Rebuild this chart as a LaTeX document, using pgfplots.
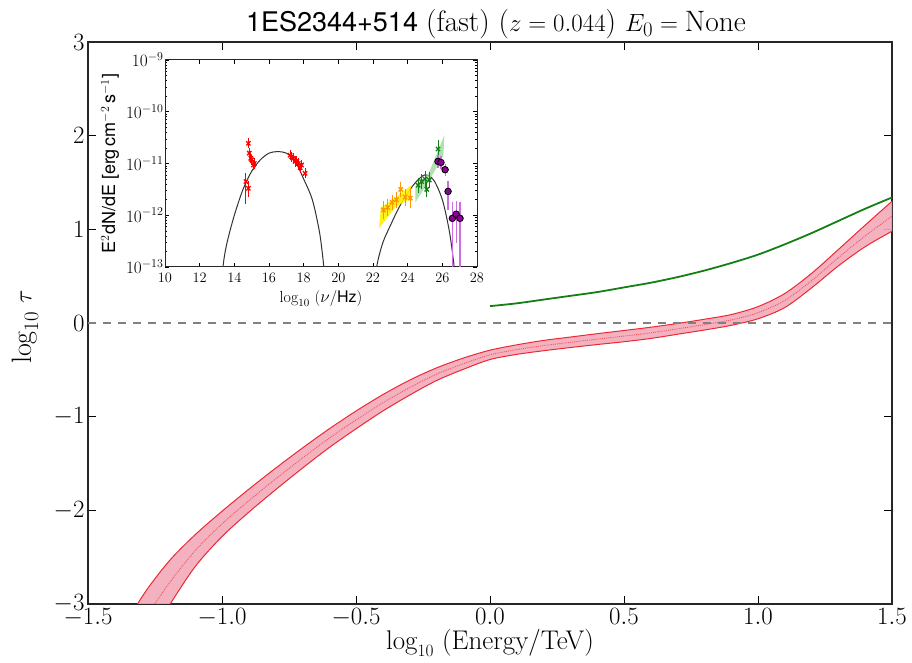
\documentclass[border=0pt]{standalone}
\usepackage{fontspec}
\setsansfont{TeX Gyre Heros}
\usepackage{pgfplots}
\pgfplotsset{compat=1.18}
\usepackage{pgfplotstable}
\usepgfplotslibrary{fillbetween}

\definecolor{bandfill}{RGB}{243,170,185}
\definecolor{bandedge}{RGB}{238,40,50}
\definecolor{mygreen}{RGB}{20,128,20}
\definecolor{myorange}{RGB}{255,150,0}
\definecolor{myyellow}{RGB}{255,240,0}
\definecolor{lgreen}{RGB}{150,215,150}
\definecolor{mypurple}{RGB}{140,0,150}
\definecolor{errpurple}{RGB}{205,110,225}

\pgfplotstableread{
x lo mid hi
-1.40 -4.00 -3.715 -3.43
-1.30 -3.50 -3.215 -2.93
-1.20 -3.03 -2.79 -2.55
-1.10 -2.60 -2.43 -2.26
-1.00 -2.28 -2.145 -2.01
-0.90 -2.02 -1.8975 -1.775
-0.80 -1.78 -1.665 -1.55
-0.70 -1.55 -1.4425 -1.335
-0.60 -1.33 -1.23 -1.13
-0.50 -1.13 -1.035 -0.94
-0.40 -0.94 -0.8525 -0.765
-0.30 -0.77 -0.69 -0.61
-0.20 -0.615 -0.5475 -0.48
-0.10 -0.495 -0.435 -0.375
0.00 -0.39 -0.34 -0.29
0.10 -0.335 -0.284 -0.233
0.20 -0.296 -0.241 -0.186
0.30 -0.262 -0.206 -0.150
0.40 -0.23 -0.172 -0.114
0.50 -0.20 -0.14 -0.08
0.60 -0.165 -0.105 -0.045
0.70 -0.12 -0.0625 -0.005
0.80 -0.075 -0.0175 0.04
0.90 -0.025 0.0325 0.09
1.00 0.045 0.11 0.175
1.10 0.165 0.24 0.315
1.20 0.375 0.4525 0.53
1.30 0.61 0.6975 0.785
1.40 0.815 0.93 1.045
1.50 0.98 1.14 1.30
}\band

\pgfplotstableread{
x y
0.00 0.18
0.10 0.21
0.20 0.25
0.30 0.29
0.40 0.33
0.50 0.38
0.60 0.43
0.70 0.49
0.80 0.56
0.90 0.64
1.00 0.73
1.10 0.84
1.20 0.96
1.30 1.09
1.40 1.22
1.50 1.34
}\greenline

\begin{document}
\begin{tikzpicture}
\begin{axis}[
  name=main,
  scale only axis, width=804pt, height=562pt,
  xmin=-1.5, xmax=1.5, ymin=-3, ymax=3,
  xtick={-1.5,-1,-0.5,0,0.5,1,1.5},
  ytick={-3,-2,-1,0,1,2,3},
  xticklabel style={/pgf/number format/fixed, /pgf/number format/fixed zerofill, /pgf/number format/precision=1, yshift=-1pt},
  ticklabel style={font=\fontsize{27}{31}\selectfont},
  major tick length=8pt,
  tick style={line width=0.9pt, black},
  axis line style={line width=1.2pt, black!85},
  tick align=inside,
]
\addplot[name path=hi, draw=bandedge, line width=1pt, smooth] table[x=x,y=hi] {\band};
\addplot[name path=lo, draw=bandedge, line width=1pt, smooth] table[x=x,y=lo] {\band};
\addplot[bandfill, fill opacity=0.9] fill between[of=hi and lo];
\addplot[draw=bandedge!80, densely dotted, line width=0.9pt, smooth] table[x=x,y=mid] {\band};
\addplot[draw=mygreen, line width=1.8pt, smooth] table[x=x,y=y] {\greenline};
\addplot[draw=black!50, line width=2.5pt, dash pattern=on 8pt off 7pt] coordinates {(-1.5,0) (1.5,0)};
\end{axis}
\node[anchor=base] at ([xshift=6pt,yshift=10pt]main.north) {\fontsize{27}{31}\selectfont\textsf{1ES2344+514} \fontsize{29.5}{33}\selectfont(fast) ($z=0.044$) $E_0=\mathrm{None}$};
\node[anchor=base] at ([yshift=-46pt]main.south) {\fontsize{27}{31}\selectfont$\log_{10}$ (Energy/TeV)};
\node[rotate=90, anchor=center] at ([xshift=-63pt,yshift=-4pt]main.west) {\fontsize{28}{32}\selectfont$\log_{10}\,\tau$};

\begin{axis}[
  name=inset,
  at={(77pt,337pt)}, anchor=south west,
  scale only axis, width=312pt, height=207pt,
  axis background/.style={fill=white},
  xmin=10, xmax=28, ymin=-13, ymax=-9,
  xtick={10,12,...,28},
  ytick={-13,-12,-11,-10,-9},
  yticklabels={$10^{-13}$,$10^{-12}$,$10^{-11}$,$10^{-10}$,$10^{-9}$},
  minor ytick={-12.699,-12.523,-12.398,-12.301,-12.222,-12.155,-12.097,-12.046,
               -11.699,-11.523,-11.398,-11.301,-11.222,-11.155,-11.097,-11.046,
               -10.699,-10.523,-10.398,-10.301,-10.222,-10.155,-10.097,-10.046,
               -9.699,-9.523,-9.398,-9.301,-9.222,-9.155,-9.097,-9.046},
  xticklabel style={font=\fontsize{15.5}{18}\selectfont, yshift=-3pt},
  yticklabel style={font=\fontsize{17}{19}\selectfont, xshift=2pt},
  major tick length=4pt, minor tick length=2pt,
  tick style={line width=0.6pt, black},
  axis line style={line width=1pt, black!85},
  tick align=inside,
]
% synchrotron model
\addplot[black!80, line width=1pt, smooth] coordinates {
(13.25,-13.3) (13.4,-12.85) (13.6,-12.5) (14.0,-12.0) (14.5,-11.5) (15.0,-11.15) (15.5,-10.93)
(16.0,-10.8) (16.5,-10.77) (17.0,-10.8) (17.5,-10.95) (18.0,-11.3) (18.5,-11.7) (18.9,-12.3) (19.1,-12.8) (19.25,-13.3)};
% IC model
\addplot[black!80, line width=1pt, smooth] coordinates {
(22.05,-13.3) (22.3,-12.85) (22.6,-12.5) (23.0,-12.2) (23.5,-11.85) (24.0,-11.57) (24.5,-11.35)
(25.0,-11.22) (25.5,-11.32) (26.0,-11.7) (26.4,-12.3) (26.65,-12.9) (26.75,-13.3)};
% yellow butterfly
\addplot[fill=myyellow, draw=none, fill opacity=0.9] coordinates {
(22.35,-12.25) (22.45,-11.85) (23.3,-11.66) (24.2,-11.42) (24.15,-11.68) (23.3,-11.84)} -- cycle;
% green butterfly
\addplot[fill=lgreen, draw=none, fill opacity=0.75] coordinates {
(24.45,-11.45) (25.2,-11.2) (26.12,-10.45) (26.06,-10.85) (25.2,-11.35) (24.45,-11.75)} -- cycle;
% red points
\addplot[only marks, mark=x, mark size=3pt, red, line width=1.3pt,
  error bars/.cd, y dir=both, y explicit, error bar style={red, line width=0.9pt}, error mark=-, error mark options={mark size=2.5pt, line width=0.9pt}]
  table[x=x, y=y, y error plus=ep, y error minus=em] {
x y ep em
14.67 -11.35 0.12 0.38
14.81 -11.48 0.10 0.12
14.81 -10.61 0.05 0.05
14.86 -10.80 0.05 0.05
14.95 -10.90 0.05 0.05
15.00 -10.93 0.05 0.05
15.10 -11.03 0.05 0.05
15.15 -11.00 0.05 0.05
17.21 -10.84 0.05 0.05
17.30 -10.87 0.05 0.05
17.40 -10.90 0.05 0.05
17.50 -10.96 0.05 0.05
17.60 -10.95 0.05 0.05
17.69 -11.00 0.05 0.05
17.80 -11.08 0.05 0.05
17.88 -11.03 0.05 0.05
18.08 -11.19 0.05 0.05
};
% orange points
\addplot[only marks, mark=x, mark size=3pt, myorange, line width=1.3pt,
  error bars/.cd, y dir=both, y explicit, error bar style={myorange, line width=0.9pt}, error mark=-, error mark options={mark size=2.5pt, line width=0.9pt}]
  table[x=x, y=y, y error plus=ep, y error minus=em] {
x y ep em
22.60 -11.90 0.12 0.12
22.85 -11.85 0.12 0.12
23.10 -11.75 0.10 0.10
23.35 -11.70 0.10 0.12
23.60 -11.50 0.10 0.10
23.85 -11.65 0.10 0.12
24.15 -11.67 0.15 0.15
};
% green points
\addplot[only marks, mark=x, mark size=3pt, mygreen, line width=1.3pt,
  error bars/.cd, y dir=both, y explicit, error bar style={mygreen, line width=0.9pt}, error mark=-, error mark options={mark size=2.5pt, line width=0.9pt}]
  table[x=x, y=y, y error plus=ep, y error minus=em] {
x y ep em
24.60 -11.42 0.10 0.10
24.80 -11.35 0.10 0.10
25.00 -11.30 0.10 0.10
25.10 -11.50 0.10 0.10
25.25 -11.32 0.10 0.10
25.75 -10.72 0.12 0.12
};
% purple points
\addplot[only marks, mark=*, mark size=3.3pt, mark options={fill=mypurple, draw=black, line width=0.8pt},
  error bars/.cd, y dir=both, y explicit, error bar style={errpurple, line width=1.3pt}, error mark=-, error mark options={mark size=3pt, line width=1.2pt, errpurple}]
  table[x=x, y=y, y error plus=ep, y error minus=em] {
x y ep em
25.75 -10.96 0.06 0.06
25.92 -10.98 0.06 0.06
26.16 -11.12 0.06 0.06
26.33 -11.54 0.15 0.30
26.58 -12.06 0.25 0.90
26.80 -11.98 0.20 0.50
27.02 -12.06 0.25 1.00
};
\end{axis}
\node[anchor=base] at ([yshift=-36pt]inset.south) {\fontsize{16}{18}\selectfont$\log_{10}$ ($\nu$/\textsf{Hz})};
\node[rotate=90, anchor=center] at ([xshift=-55pt]inset.west) {\fontsize{18}{20}\selectfont\sffamily E$^2$dN/dE [erg\,cm$^{-2}$\,s$^{-1}$]};
\pgfresetboundingbox
\useasboundingbox ([shift={(-88pt,-59pt)}]main.south west) rectangle ([shift={(20pt,42pt)}]main.north east);
\end{tikzpicture}
\end{document}
